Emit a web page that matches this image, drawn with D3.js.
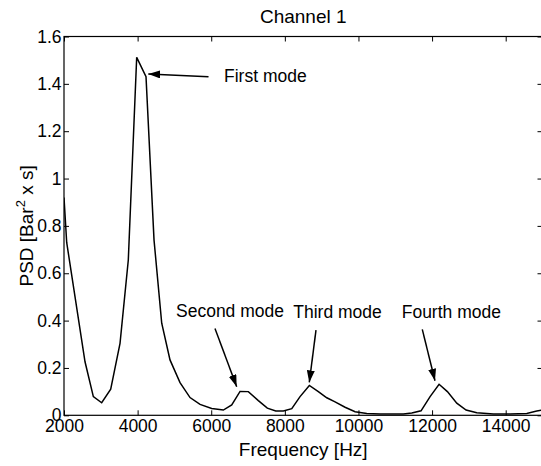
<!DOCTYPE html>
<html>
<head>
<meta charset="utf-8">
<script src="https://cdn.jsdelivr.net/npm/d3@7"></script>
<style>
  body { margin: 0; background: #fff; }
  svg { display: block; font-family: "Liberation Sans", Arial, sans-serif; }
  .axis text { font-size: 17.5px; fill: #000; }
  .axis line { stroke: #000; }
</style>
</head>
<body>
<div id="chart"></div>
<script>
// PSD of channel 1
var freq = [2000, 2073, 2571, 2797, 3024, 3269, 3522, 3747, 3975, 4228,
            4446, 4655, 4880, 5152, 5424, 5696, 6013, 6329, 6557, 6783,
            7008, 7280, 7524, 7753, 7960, 8188, 8413, 8666, 8910, 9139,
            9364, 9636, 9908, 10226, 10587, 11220, 11448, 11700, 11946, 12190,
            12416, 12671, 12924, 13215, 13666, 14120, 14573, 14845, 15000];
var psd = [0.92, 0.73, 0.226, 0.079, 0.053, 0.110, 0.304, 0.656, 1.512, 1.43,
           0.74, 0.389, 0.234, 0.138, 0.075, 0.046, 0.029, 0.022, 0.044, 0.101,
           0.100, 0.062, 0.030, 0.018, 0.018, 0.028, 0.079, 0.126, 0.100, 0.074,
           0.057, 0.034, 0.015, 0.008, 0.005, 0.006, 0.010, 0.019, 0.079, 0.131,
           0.100, 0.051, 0.022, 0.011, 0.005, 0.005, 0.008, 0.018, 0.022];

var xTicks = [2000, 4000, 6000, 8000, 10000, 12000, 14000];
var yTicks = [0, 0.2, 0.4, 0.6, 0.8, 1, 1.2, 1.4, 1.6];

// mode annotations (data coordinates)
var modeLabels = ["First mode", "Second mode", "Third mode", "Fourth mode"];
var labelPos = [[6347, 1.408], [5043, 0.415], [8230, 0.41], [11175, 0.41]];
var arrowFrom = [[5926, 1.430], [6102, 0.367], [8846, 0.360], [11734, 0.363]];
var arrowTo = [[4290, 1.442], [6692, 0.121], [8664, 0.139], [12079, 0.146]];

var width = 541, height = 466;
var margin = {top: 36.5, left: 64, bottom: 50.7};
var plotRight = 542.5;

var x = d3.scaleLinear().domain([2000, 15000]).range([margin.left, plotRight]);
var y = d3.scaleLinear().domain([0, 1.6]).range([height - margin.bottom, margin.top]);

var svg = d3.select("#chart").append("svg")
    .attr("width", width)
    .attr("height", height);

svg.append("defs").append("clipPath").attr("id", "plotclip")
  .append("rect")
    .attr("x", x(2000)).attr("y", y(1.6))
    .attr("width", x(15000) - x(2000)).attr("height", y(0) - y(1.6));

svg.append("defs").append("marker")
    .attr("id", "head")
    .attr("viewBox", "0 0 12 8")
    .attr("refX", 12).attr("refY", 4)
    .attr("markerWidth", 12).attr("markerHeight", 8)
    .attr("markerUnits", "userSpaceOnUse")
    .attr("orient", "auto")
  .append("path")
    .attr("d", "M0,0L12,4L0,8Z")
    .attr("fill", "#000");

// box
svg.append("rect")
    .attr("x", x(2000)).attr("y", y(1.6))
    .attr("width", x(15000) - x(2000)).attr("height", y(0) - y(1.6))
    .attr("fill", "none").attr("stroke", "#000").attr("stroke-width", 1.2);

// AXES - ticks inward on all sides
svg.append("g")
    .attr("class", "axis")
    .attr("transform", "translate(0," + y(0) + ")")
    .call(d3.axisBottom(x).tickValues(xTicks).tickSizeInner(-5).tickSizeOuter(0)
        .tickPadding(4.5).tickFormat(d3.format("d")))
    .call(function(g) { g.select(".domain").remove(); });

svg.append("g")
    .attr("class", "axis")
    .attr("transform", "translate(0," + y(1.6) + ")")
    .call(d3.axisTop(x).tickValues(xTicks).tickSizeInner(-5).tickSizeOuter(0)
        .tickFormat(""))
    .call(function(g) { g.select(".domain").remove(); });

svg.append("g")
    .attr("class", "axis")
    .attr("transform", "translate(" + x(2000) + ",0)")
    .call(d3.axisLeft(y).tickValues(yTicks).tickSizeInner(-5).tickSizeOuter(0)
        .tickPadding(2.5).tickFormat(d3.format("~g")))
    .call(function(g) { g.select(".domain").remove(); });

svg.append("g")
    .attr("class", "axis")
    .attr("transform", "translate(" + x(15000) + ",0)")
    .call(d3.axisRight(y).tickValues(yTicks).tickSizeInner(-5).tickSizeOuter(0)
        .tickFormat(""))
    .call(function(g) { g.select(".domain").remove(); });

// PSD line
var pts = freq.map(function(f, i) { return [f, psd[i]]; });
svg.append("path")
    .datum(pts)
    .attr("clip-path", "url(#plotclip)")
    .attr("fill", "none")
    .attr("stroke", "#000")
    .attr("stroke-width", 1.5)
    .attr("stroke-linejoin", "miter")
    .attr("d", d3.line().x(function(d) { return x(d[0]); }).y(function(d) { return y(d[1]); }));

// annotations
svg.selectAll(".arrow").data(arrowFrom).enter().append("line")
    .attr("class", "arrow")
    .attr("x1", function(d) { return x(d[0]); })
    .attr("y1", function(d) { return y(d[1]); })
    .attr("x2", function(d, i) { return x(arrowTo[i][0]); })
    .attr("y2", function(d, i) { return y(arrowTo[i][1]); })
    .attr("stroke", "#000")
    .attr("stroke-width", 1.5)
    .attr("marker-end", "url(#head)");

svg.selectAll(".mode").data(modeLabels).enter().append("text")
    .attr("class", "mode")
    .attr("x", function(d, i) { return x(labelPos[i][0]); })
    .attr("y", function(d, i) { return y(labelPos[i][1]); })
    .attr("font-size", "17.5px")
    .text(function(d) { return d; });

// title and labels
svg.append("text")
    .attr("x", (x(2000) + x(15000)) / 2)
    .attr("y", 23)
    .attr("text-anchor", "middle")
    .attr("font-size", "19px")
    .text("Channel 1");

svg.append("text")
    .attr("x", (x(2000) + x(15000)) / 2)
    .attr("y", 456)
    .attr("text-anchor", "middle")
    .attr("font-size", "19px")
    .text("Frequency [Hz]");

var ylab = svg.append("text")
    .attr("transform", "translate(33," + (y(0) + y(1.6)) / 2 + ") rotate(-90)")
    .attr("text-anchor", "middle")
    .attr("font-size", "19px");
ylab.append("tspan").text("PSD [Bar");
ylab.append("tspan").attr("font-size", "13px").attr("dy", "-8").text("2");
ylab.append("tspan").attr("dy", "8").text(" x s]");
</script>
</body>
</html>
